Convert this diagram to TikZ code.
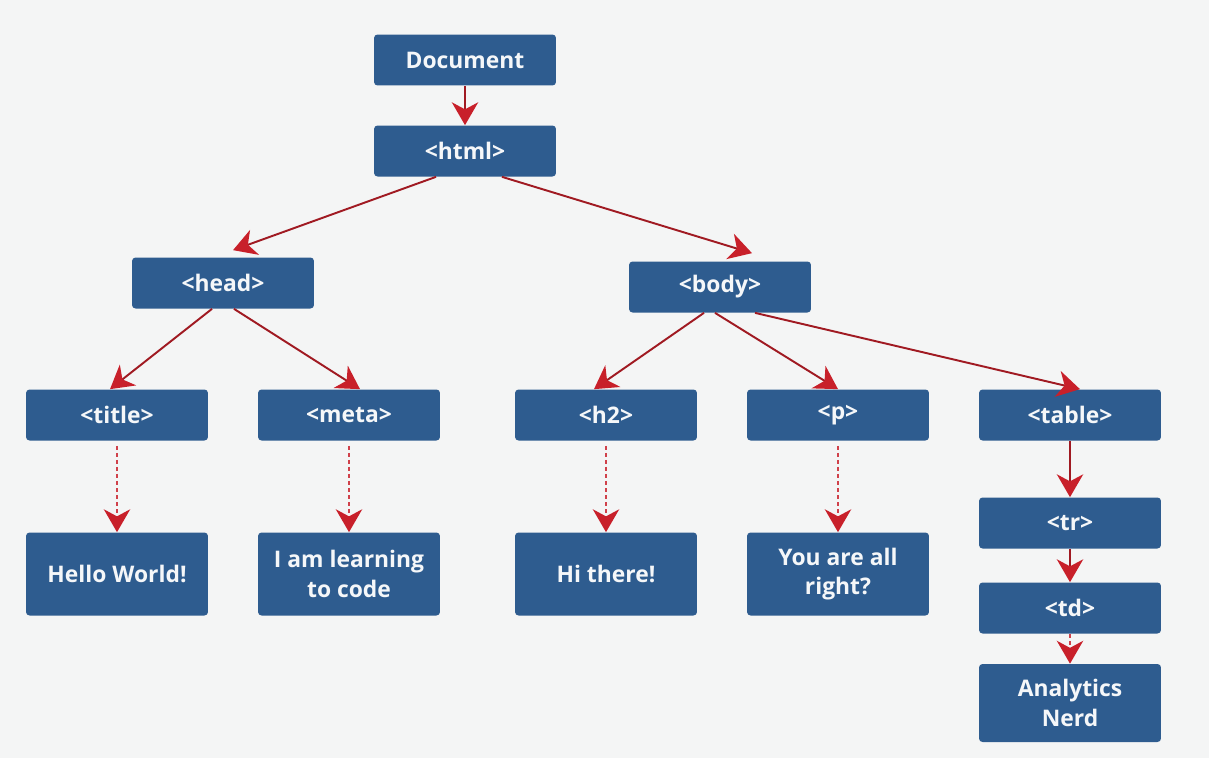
\documentclass[tikz,border=0pt]{standalone}
\usepackage{fontspec}
\setmainfont{Open Sans}
\usetikzlibrary{arrows.meta}
\definecolor{xanh}{HTML}{2E5C8F}
\definecolor{do}{HTML}{C8202A}
\definecolor{nen}{HTML}{F4F5F5}

\begin{document}
\begin{tikzpicture}[x=0.02cm, y=-0.02cm,
    >={Stealth[length=13pt, width=15pt, inset=4pt, color=do]},
    hop/.style={fill=xanh, rounded corners=2pt, minimum width=3.64cm,
        minimum height=1.02cm, inner sep=0pt, align=center, text=white!95!xanh,
        font=\bfseries\fontsize{13}{17}\selectfont},
    hopcao/.style={hop, minimum height=1.66cm},
    mui/.style={->, draw=do!80!black, line width=1.1pt},
    net/.style={mui, draw=do!85, dash pattern=on 2.5pt off 1.5pt}]

    % 1. Nền
    \fill[nen] (0,0) rectangle (1214,758);
    \fill[white] (1209,0) rectangle (1214,758);
    \useasboundingbox (0,0) rectangle (1214,758);

    % 2. Các khối thẻ
    \node[hop] (doc) at (465,60) {Document};
    \node[hop] (html) at (465,151) {<html>};

    \node[hop] (head) at (223,283) {<head>};
    \node[hop] (body) at (720,287) {<body>};

    \node[hop] (title) at (117,415) {<title>};
    \node[hop] (meta) at (349,415) {<meta>};
    \node[hop] (htwo) at (606,415) {<h2>};
    \node[hop] (para) at (838,415) {<p>};
    \node[hop] (table) at (1070,415) {<table>};

    % 3. Nội dung văn bản
    \node[hopcao] (hello) at (117,574) {Hello World!};
    \node[hopcao] (learn) at (349,574) {I am learning\\to code};
    \node[hopcao] (hithere) at (606,574) {Hi there!};
    \node[hopcao] (allright) at (838,574) {You are all\\right?};

    \node[hop] (tr) at (1070,523) {<tr>};
    \node[hop] (td) at (1070,608) {<td>};
    \node[hop, minimum height=1.56cm] (nerd) at (1070,703) {Analytics\\Nerd};

    % 4. Mũi tên liền
    \draw[mui] (doc) -- (html);
    \draw[mui] ([shift={(-29,0)}]html.south) -- ([shift={(10,-7)}]head.north);
    \draw[mui] ([shift={(37,0)}]html.south) -- ([shift={(32,-8)}]body.north);

    \draw[mui] ([shift={(-11,0)}]head.south) -- ([shift={(-7,0)}]title.north);
    \draw[mui] ([shift={(11,0)}]head.south) -- ([shift={(11,0)}]meta.north);

    \draw[mui] ([shift={(-16,0)}]body.south) -- ([shift={(-12,0)}]htwo.north);
    \draw[mui] ([shift={(-5,0)}]body.south) -- (para.north);
    \draw[mui] ([shift={(35,0)}]body.south) -- ([shift={(10,0)}]table.north);

    \draw[mui] (table) -- (tr);
    \draw[mui] (tr) -- (td);

    % 5. Mũi tên đứt nét
    \draw[net] ([shift={(0,5)}]title.south) -- (hello.north);
    \draw[net] ([shift={(0,5)}]meta.south) -- (learn.north);
    \draw[net] ([shift={(0,5)}]htwo.south) -- (hithere.north);
    \draw[net] ([shift={(0,5)}]para.south) -- (allright.north);
    \draw[net] (td) -- (nerd);
\end{tikzpicture}
\end{document}
